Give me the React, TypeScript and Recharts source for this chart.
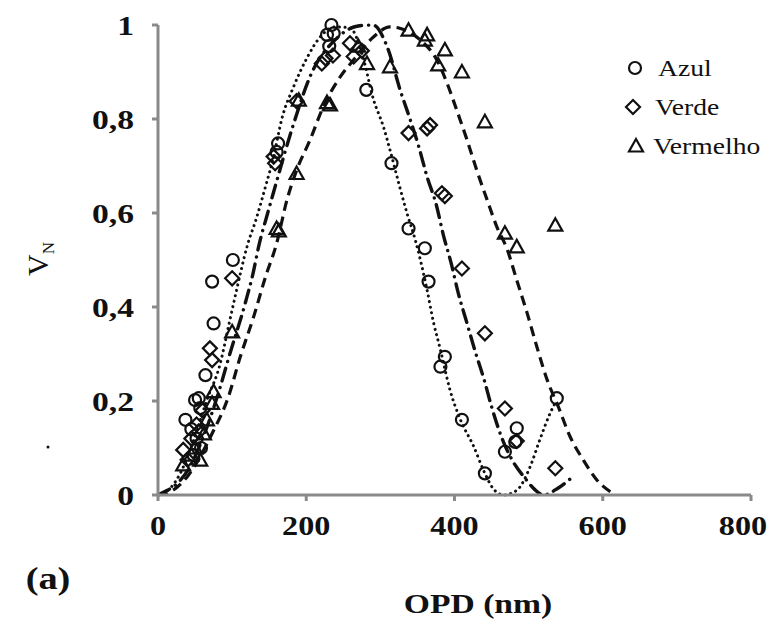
import { ComposedChart, Scatter, Line, XAxis, YAxis } from "recharts";

// pontos medidos (OPD em nm, visibilidade normalizada)
const azulPts = [
  [234, 1.0], [228, 0.979], [237, 0.982], [231, 0.955], [281, 0.862], [315, 0.706],
  [338, 0.567], [360, 0.525], [365, 0.454], [387, 0.294], [381, 0.273], [410, 0.16],
  [441, 0.046], [484, 0.142], [482, 0.113], [468, 0.092], [538, 0.206], [162, 0.748],
  [160, 0.73], [101, 0.5], [73, 0.454], [75, 0.365], [64, 0.255], [55, 0.206],
  [50, 0.202], [57, 0.185], [37, 0.16], [45, 0.14], [52, 0.12], [58, 0.1], [48, 0.085],
];
const verdePts = [
  [226, 0.929], [221, 0.918], [236, 0.935], [259, 0.961], [264, 0.933], [275, 0.945],
  [338, 0.77], [363, 0.78], [367, 0.787], [383, 0.642], [387, 0.636], [410, 0.482],
  [441, 0.344], [468, 0.184], [484, 0.115], [536, 0.057], [156, 0.72], [158, 0.706],
  [187, 0.838], [100, 0.461], [70, 0.312], [73, 0.287], [34, 0.096], [45, 0.12],
  [52, 0.15], [60, 0.18], [55, 0.135], [40, 0.075],
];
const vermelhoPts = [
  [338, 0.989], [363, 0.979], [360, 0.968], [387, 0.947], [378, 0.915], [410, 0.9],
  [441, 0.794], [536, 0.574], [468, 0.557], [484, 0.528], [282, 0.918], [313, 0.911],
  [270, 0.955], [232, 0.83], [228, 0.835], [190, 0.84], [187, 0.684], [160, 0.567],
  [163, 0.562], [100, 0.347], [75, 0.22], [73, 0.195], [34, 0.064], [57, 0.074],
  [50, 0.1], [62, 0.13], [66, 0.16], [45, 0.085],
];

// curvas ajustadas
const azulFit = [
  [0, 0], [15, 0.012], [30, 0.046], [48, 0.117], [66, 0.202], [84, 0.28], [95, 0.358],
  [106, 0.436], [120, 0.528], [133, 0.59], [145, 0.656], [156, 0.72], [167, 0.8],
  [183, 0.869], [201, 0.93], [219, 0.975], [240, 0.996], [259, 0.994], [275, 0.94],
  [291, 0.84], [304, 0.784], [313, 0.734], [326, 0.656], [336, 0.599], [347, 0.543],
  [354, 0.5], [363, 0.436], [372, 0.365], [381, 0.309], [394, 0.223], [408, 0.16],
  [426, 0.103], [439, 0.053], [452, 0.014], [466, 0], [484, 0.01], [502, 0.06],
  [515, 0.117], [529, 0.174], [538, 0.202],
];
const verdeFit = [
  [0, 0], [10, 0.008], [20, 0.017], [43, 0.06], [65, 0.14], [84, 0.23], [95, 0.29],
  [118, 0.41], [128, 0.47], [136, 0.53], [148, 0.6], [158, 0.656], [181, 0.78],
  [207, 0.897], [240, 0.97], [270, 0.998], [290, 1.0], [310, 0.95], [327, 0.86],
  [340, 0.8], [352, 0.74], [363, 0.677], [375, 0.62], [385, 0.553], [396, 0.49],
  [405, 0.43], [416, 0.37], [428, 0.305], [440, 0.245], [450, 0.188], [463, 0.125],
  [479, 0.071], [495, 0.036], [508, 0.012], [520, 0], [540, 0.015], [559, 0.038],
];
const vermelhoFit = [
  [0, 0], [20, 0.01], [40, 0.04], [73, 0.131], [95, 0.209], [111, 0.294], [129, 0.379],
  [145, 0.464], [160, 0.535], [174, 0.628], [187, 0.691], [205, 0.755], [223, 0.826],
  [246, 0.89], [264, 0.926], [291, 0.975], [313, 0.996], [326, 0.993], [354, 0.968],
  [376, 0.926], [390, 0.876], [403, 0.819], [417, 0.755], [430, 0.691], [444, 0.628],
  [457, 0.571], [471, 0.523], [484, 0.457], [498, 0.387], [511, 0.316], [525, 0.245],
  [540, 0.188], [556, 0.124], [574, 0.074], [592, 0.032], [612, 0.005],
];

const xTicks = [0, 200, 400, 600, 800];
const yTicks = [0, 0.2, 0.4, 0.6, 0.8, 1];
const seriesNames = ["Azul", "Verde", "Vermelho"];

const toRows = (pts: number[][]) => pts.map(([x, y]) => ({ x, y }));

const INK = "#111";
const AXIS = "#8a8a8a";
const SERIF = "'Liberation Serif', 'Times New Roman', serif";

const circle = (p: any) => (
  <circle cx={p.cx} cy={p.cy} r={6} fill="none" stroke={INK} strokeWidth={2.2} />
);
const diamond = (p: any) => (
  <polygon
    points={`${p.cx},${p.cy - 7} ${p.cx + 7},${p.cy} ${p.cx},${p.cy + 7} ${p.cx - 7},${p.cy}`}
    fill="none"
    stroke={INK}
    strokeWidth={2.2}
  />
);
const triangle = (p: any) => (
  <polygon
    points={`${p.cx},${p.cy - 7} ${p.cx + 7},${p.cy + 5.5} ${p.cx - 7},${p.cy + 5.5}`}
    fill="none"
    stroke={INK}
    strokeWidth={2.2}
  />
);
const shapes = [circle, diamond, triangle];

const XTick = ({ x, y, payload }: any) => (
  <g transform={`translate(${payload.value === 800 ? x - 8 : x},${y})`}>
    <text transform="scale(1.15,1)" textAnchor="middle" dy="0.71em" fontFamily={SERIF} fontWeight="bold" fontSize={28} fill={INK}>
      {payload.value}
    </text>
  </g>
);

const YTick = ({ x, y, payload }: any) => (
  <g transform={`translate(${x},${y})`}>
    <text transform="scale(1.2,1)" textAnchor="end" dy="0.355em" fontFamily={SERIF} fontWeight="bold" fontSize={28} fill={INK}>
      {String(payload.value).replace(".", ",")}
    </text>
  </g>
);

// legenda e títulos desenhados no svg (coordenadas do svg)
const legendMarkX = [627, 625, 628];
const legendTextX = [650, 647, 645];

const Extras = () => (
  <g>
    {seriesNames.map((name, i) => (
      <g key={name}>
        {shapes[i]({ cx: legendMarkX[i], cy: 60 + i * 39 })}
        <g transform={`translate(${legendTextX[i]},${60 + i * 39})`}>
          <text transform="scale(1.2,1)" dy="0.35em" fontFamily={SERIF} fontSize={23} fill={INK}>
            {name}
          </text>
        </g>
      </g>
    ))}
    <g transform="translate(470,595)">
      <text transform="scale(1.2,1)" textAnchor="middle" dy="0.35em" fontFamily={SERIF} fontWeight="bold" fontSize={28} fill={INK}>
        OPD (nm)
      </text>
    </g>
    <g transform="translate(40,570)">
      <text transform="scale(1.2,1)" textAnchor="middle" dy="0.35em" fontFamily={SERIF} fontWeight="bold" fontSize={32} fill={INK}>
        (a)
      </text>
    </g>
    <text transform="rotate(-90,29,251)" x={29} y={251} textAnchor="middle" dy="0.35em" fontFamily={SERIF} fontSize={30} fill={INK}>
      V<tspan fontSize={17} dy="6">N</tspan>
    </text>
    <circle cx={40} cy={439} r={1.5} fill={INK} />
  </g>
);

export default function App() {
  return (
    <ComposedChart
      width={773}
      height={620}
      margin={{ top: 17, right: 30, bottom: 93, left: 90 }}
      style={{ background: "#fff" }}
    >
      <XAxis
        dataKey="x"
        type="number"
        domain={[0, 800]}
        ticks={xTicks}
        height={40}
        tickSize={6}
        tickMargin={14}
        tick={<XTick />}
        axisLine={{ stroke: AXIS, strokeWidth: 3 }}
        tickLine={{ stroke: AXIS, strokeWidth: 3 }}
        label={{ content: () => <Extras /> }}
      />
      <YAxis
        dataKey="y"
        type="number"
        domain={[0, 1]}
        ticks={yTicks}
        width={60}
        tickSize={6}
        tickMargin={18}
        tick={<YTick />}
        axisLine={{ stroke: AXIS, strokeWidth: 3 }}
        tickLine={{ stroke: AXIS, strokeWidth: 3 }}
      />
      <Line data={toRows(azulFit)} dataKey="y" type="monotone" dot={false} stroke={INK} strokeWidth={3}
        strokeDasharray="0.1 5.5" strokeLinecap="round" isAnimationActive={false} />
      <Line data={toRows(verdeFit)} dataKey="y" type="monotone" dot={false} stroke={INK} strokeWidth={3.4}
        strokeDasharray="13 7 0.1 7" strokeLinecap="round" isAnimationActive={false} />
      <Line data={toRows(vermelhoFit)} dataKey="y" type="monotone" dot={false} stroke={INK} strokeWidth={3.2}
        strokeDasharray="10 6" isAnimationActive={false} />
      <Scatter name={seriesNames[0]} data={toRows(azulPts)} dataKey="y" shape={circle} isAnimationActive={false} />
      <Scatter name={seriesNames[1]} data={toRows(verdePts)} dataKey="y" shape={diamond} isAnimationActive={false} />
      <Scatter name={seriesNames[2]} data={toRows(vermelhoPts)} dataKey="y" shape={triangle} isAnimationActive={false} />
    </ComposedChart>
  );
}
